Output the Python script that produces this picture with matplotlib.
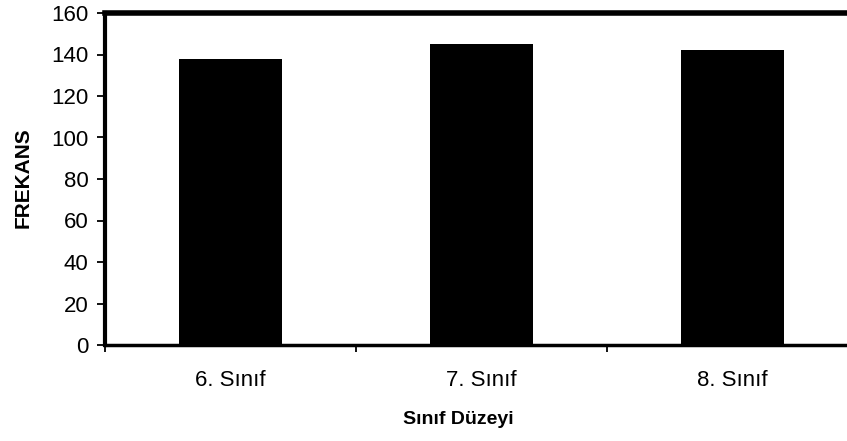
import matplotlib.pyplot as plt
import numpy as np

# data
siniflar = ["6. Sınıf", "7. Sınıf", "8. Sınıf"]
frekans = [138, 145, 142]
y_ticks = [0, 20, 40, 60, 80, 100, 120, 140, 160]

plt.rcParams['font.family'] = ['Liberation Sans', 'DejaVu Sans']

fig = plt.figure(figsize=(8.47, 4.41), dpi=100)
W, H = 847, 441
# axes from x=105 to ~858 (right edge cut off), y=13 to 345
ax = fig.add_axes([105 / W, (H - 345) / H, 753 / W, 332 / H])

x = np.arange(len(siniflar))
ax.bar(x, frekans, width=0.41, color='black', zorder=2)

ax.set_xlim(-0.5, len(siniflar) - 0.5)
ax.set_ylim(0, 160)
ax.set_yticks(y_ticks)
ax.set_yticklabels([str(v) for v in y_ticks], fontsize=16)

# category labels centered, ticks at boundaries
ax.set_xticks(x)
ax.set_xticklabels(siniflar, fontsize=16)
ax.tick_params(axis='x', length=0, pad=18)
ax.set_xticks(np.arange(-0.5, len(siniflar), 1), minor=True)
ax.tick_params(axis='x', which='minor', length=5, width=1.3, direction='out')
ax.tick_params(axis='y', length=6, width=1.3, direction='out', pad=6)

ax.spines['left'].set_linewidth(3)
ax.spines['bottom'].set_linewidth(2.5)
ax.spines['top'].set_linewidth(4)
ax.spines['right'].set_visible(False)

fig.text(23 / W, 1 - 178 / H, "FREKANS", rotation=90, fontsize=15,
         fontweight='bold', ha='center', va='center')
fig.text(458 / W, 1 - 420 / H, "Sınıf Düzeyi", fontsize=14,
         fontweight='bold', ha='center', va='center')

fig.savefig("out.png", dpi=100)
